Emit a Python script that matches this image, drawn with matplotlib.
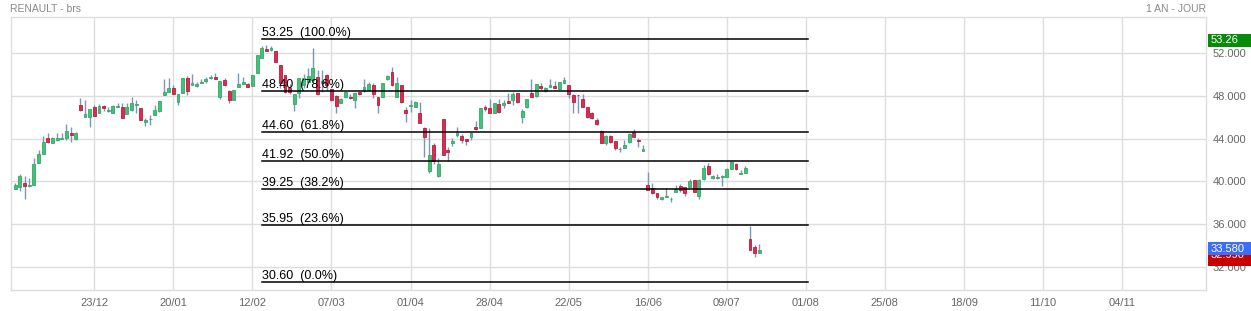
import matplotlib
matplotlib.use('Agg')
import matplotlib.pyplot as plt
from matplotlib.patches import Rectangle
from matplotlib.transforms import blended_transform_factory

plt.rcParams['font.family'] = ['Liberation Sans', 'DejaVu Sans']

# daily candles (open, high, low, close), one per trading day
opens = [39.33, 39.45, 39.82, 39.58, 39.70, 41.75, 42.59, 44.05, 43.61, 43.86,
         43.98, 44.08, 44.52, 43.95, 47.12, 46.04, 45.97, 46.91, 46.41, 47.03,
         46.55, 46.41, 46.91, 46.91, 46.28, 46.66, 47.12, 46.81, 45.57, 45.78,
         46.19, 46.60, 48.09, 48.37, 48.68, 47.43, 48.27, 49.61, 48.99, 48.90,
         49.14, 49.39, 49.61, 49.76, 47.90, 49.45, 48.43, 47.59, 48.83, 49.05,
         49.05, 48.93, 50.14, 51.47, 52.35, 52.25, 52.16, 50.85, 49.92, 48.68,
         47.19, 48.21, 49.00, 49.30, 49.46, 49.77, 49.15, 49.92, 48.62, 47.97,
         47.28, 47.90, 47.90, 47.60, 48.31, 48.43, 48.53, 48.99, 47.90, 47.90,
         49.52, 50.17, 47.90, 48.99, 46.66, 47.03, 46.97, 46.41, 44.95, 41.01,
         43.40, 40.51, 45.79, 42.93, 43.56, 44.30, 44.24, 43.99, 44.18, 45.11,
         44.95, 46.91, 46.82, 46.35, 47.22, 47.10, 47.53, 47.60, 48.28, 45.98,
         46.91, 48.22, 47.97, 48.90, 48.46, 48.84, 48.90, 48.59, 49.21, 48.99,
         48.06, 48.06, 47.66, 46.91, 46.41, 45.73, 44.74, 43.56, 44.24, 43.77,
         43.00, 43.15, 43.71, 44.64, 43.77, 42.84, 39.67, 39.36, 38.95, 38.33,
         38.58, 38.33, 39.05, 39.58, 39.45, 39.45, 40.14, 38.68, 40.20, 41.44,
         40.29, 40.29, 40.38, 40.45, 41.13, 41.63, 40.74, 40.82, 34.61, 33.92,
         33.36]
highs = [39.89, 40.70, 40.51, 40.29, 42.15, 42.93, 44.23, 44.55, 44.17, 44.55,
         44.55, 45.35, 45.04, 44.64, 47.77, 47.59, 46.75, 47.12, 47.22, 47.15,
         46.97, 47.15, 47.34, 47.28, 47.28, 47.90, 47.59, 46.81, 45.88, 46.19,
         47.12, 47.50, 49.52, 49.61, 48.99, 48.15, 49.61, 49.83, 49.98, 49.30,
         49.52, 49.70, 49.95, 50.07, 49.36, 49.61, 48.52, 48.52, 50.14, 49.76,
         49.20, 49.92, 51.78, 52.62, 52.72, 52.66, 52.16, 50.85, 49.92, 49.05,
         48.12, 49.61, 49.98, 50.54, 52.47, 50.39, 50.39, 49.98, 48.62, 48.06,
         47.81, 48.43, 48.12, 48.37, 48.37, 49.55, 49.30, 49.15, 47.90, 49.15,
         49.92, 50.70, 49.70, 48.99, 46.97, 47.60, 47.53, 47.44, 45.10, 44.95,
         43.56, 42.16, 45.79, 43.18, 44.02, 45.11, 44.43, 43.99, 44.64, 45.63,
         46.82, 47.13, 47.66, 47.35, 47.66, 47.60, 48.28, 48.37, 48.28, 46.72,
         47.66, 49.52, 49.09, 49.15, 48.84, 49.52, 49.40, 49.30, 49.77, 48.99,
         48.15, 48.06, 48.15, 46.91, 46.50, 45.88, 44.80, 44.30, 44.33, 43.77,
         43.25, 43.87, 44.49, 44.86, 44.02, 43.40, 40.91, 39.89, 38.95, 38.58,
         39.36, 38.58, 39.67, 39.76, 39.45, 40.20, 40.14, 40.20, 41.53, 41.75,
         40.60, 40.70, 40.60, 41.22, 41.95, 41.75, 41.07, 41.44, 35.85, 34.08,
         34.17]
lows = [39.33, 39.14, 38.40, 39.51, 39.70, 41.75, 42.53, 43.55, 43.61, 43.80,
        43.95, 43.86, 43.70, 43.86, 46.60, 46.04, 45.10, 46.13, 46.41, 46.60,
        46.50, 46.41, 46.91, 45.94, 46.28, 46.57, 46.41, 45.73, 45.17, 45.26,
        46.19, 46.50, 48.09, 48.30, 48.12, 47.12, 48.27, 48.06, 48.99, 48.77,
        49.14, 49.20, 49.52, 49.58, 47.65, 48.93, 47.34, 47.59, 48.83, 49.05,
        48.77, 48.93, 50.14, 51.47, 52.19, 52.19, 51.10, 48.68, 48.20, 48.12,
        46.57, 47.75, 48.68, 49.30, 49.30, 48.06, 48.37, 48.43, 47.50, 46.35,
        47.28, 47.75, 47.69, 46.82, 48.06, 48.37, 48.46, 47.75, 46.35, 47.90,
        49.46, 48.90, 47.90, 47.28, 45.57, 46.50, 46.91, 45.42, 42.25, 40.82,
        41.63, 40.39, 42.47, 41.94, 43.31, 44.12, 43.56, 43.37, 43.87, 44.80,
        44.95, 46.60, 46.35, 46.35, 46.41, 46.82, 47.35, 47.13, 47.35, 45.48,
        46.82, 47.84, 47.90, 48.46, 48.37, 48.84, 48.68, 48.53, 49.15, 47.75,
        46.41, 46.35, 46.97, 45.88, 45.79, 45.26, 43.56, 43.40, 43.62, 42.93,
        42.78, 43.09, 43.62, 44.11, 43.25, 42.84, 39.20, 38.83, 38.36, 38.27,
        38.52, 38.12, 39.05, 39.05, 38.64, 39.45, 39.05, 38.36, 40.14, 40.60,
        40.23, 40.20, 39.58, 40.45, 41.13, 41.07, 40.74, 40.82, 33.61, 32.99,
        33.36]
closes = [39.67, 40.51, 39.61, 39.63, 41.63, 42.56, 43.68, 43.68, 44.05, 44.05,
          44.00, 44.67, 44.30, 44.52, 46.66, 46.28, 46.75, 46.13, 47.03, 46.81,
          46.58, 47.03, 47.06, 45.94, 46.91, 47.34, 47.15, 45.73, 45.73, 45.80,
          46.66, 47.50, 48.37, 48.68, 48.12, 48.15, 49.61, 48.46, 49.20, 49.05,
          49.30, 49.55, 49.70, 49.58, 49.36, 48.99, 47.59, 48.52, 49.08, 49.30,
          48.77, 49.92, 51.78, 52.40, 52.19, 52.41, 51.10, 49.15, 48.37, 48.31,
          48.12, 49.61, 49.67, 49.86, 50.54, 48.12, 49.36, 48.99, 47.60, 47.07,
          47.69, 48.31, 47.75, 48.28, 48.12, 48.83, 49.05, 48.12, 47.13, 49.15,
          49.86, 48.99, 49.15, 47.44, 46.41, 47.06, 47.38, 45.48, 44.18, 42.47,
          41.94, 41.63, 42.47, 42.72, 43.77, 44.55, 43.87, 43.81, 44.49, 44.86,
          46.82, 46.72, 46.41, 47.35, 46.50, 47.35, 47.35, 48.15, 47.44, 46.57,
          47.66, 47.84, 49.09, 48.68, 48.68, 48.99, 48.68, 49.24, 49.46, 48.15,
          47.44, 48.03, 46.97, 45.98, 45.88, 45.33, 43.62, 44.24, 43.71, 43.09,
          43.00, 43.40, 44.39, 44.18, 43.75, 43.03, 39.20, 38.95, 38.58, 38.52,
          38.60, 38.33, 39.30, 39.20, 38.95, 40.07, 39.05, 40.14, 41.22, 40.70,
          40.51, 40.45, 40.54, 41.13, 41.84, 41.13, 40.76, 41.22, 33.61, 33.36,
          33.58]

# date labels, one every 17 trading days
date_labels = ['23/12', '20/01', '12/02', '07/03', '01/04', '28/04', '22/05',
               '16/06', '09/07', '01/08', '25/08', '18/09', '11/10', '04/11']
yticks = [32, 36, 40, 44, 48, 52]

# fibonacci retracement
fib_levels = [53.25, 48.40, 44.60, 41.92, 39.25, 35.95, 30.60]
fib_pcts = [100.0, 78.6, 61.8, 50.0, 38.2, 23.6, 0.0]
fib_start, fib_end = 53, 170.5

# price tags on the right
tag_high = 53.26
tag_last = 33.580
tag_low = 32.990

up_col = '#45c07a'
up_edge = '#35a866'
dn_col = '#e0294f'
dn_edge = '#b51f3e'
wick_col = '#7b97b8'
grid_col = '#dddddd'

fig = plt.figure(figsize=(12.51, 3.11), dpi=100)
ax = fig.add_axes([11/1251, 1 - 290/311, (1206-11)/1251, (290-17)/311])

n = len(closes)
xs = list(range(n))
ax.vlines(xs, lows, highs, color=wick_col, linewidth=1.0, zorder=3)
for i in xs:
    o, c = opens[i], closes[i]
    up = c >= o
    h = max(abs(c - o), 0.07)
    ax.bar(i, h, bottom=min(o, c), width=0.62,
           color=up_col if up else dn_col,
           edgecolor=up_edge if up else dn_edge, linewidth=0.6, zorder=4)

# fib lines, the label sits right on its line
for lv, p in zip(fib_levels, fib_pcts):
    ax.plot([fib_start, fib_end], [lv, lv], color='black', linewidth=1.1, zorder=5)
    ax.text(fib_start, lv + 0.02, '%.2f  (%.1f%%)' % (lv, p), fontsize=9,
            color='black', ha='left', va='bottom', zorder=6)

xticks = [17 * (k + 1) for k in range(len(date_labels))]
ax.set_xticks(xticks)
ax.set_xticklabels(date_labels)
ax.set_yticks(yticks)
ax.set_yticklabels(['%.3f' % v for v in yticks])
ax.yaxis.tick_right()
ax.tick_params(axis='both', length=0, labelsize=8, labelcolor='#666666')
ax.tick_params(axis='x', pad=6)
ax.tick_params(axis='y', pad=5)
ax.grid(True, color=grid_col, linewidth=1.0)
ax.set_axisbelow(True)
for s in ax.spines.values():
    s.set_color(grid_col)
    s.set_linewidth(1.0)

ax.set_xlim(-0.92, 256.06)
ax.set_ylim(29.88, 55.33)

# right side tags (low tag partly hidden by the last price tag)
tr = blended_transform_factory(ax.transAxes, ax.transData)
bw = 45 / 1195
bh = 1.25
z = 10
for val, off, toff, col, txt in [(tag_high, -0.12, 0.0, '#0a8a0a', '%.2f' % tag_high),
                                 (tag_low, -0.29, 0.45, '#c80000', '%.3f' % tag_low),
                                 (tag_last, 0.15, 0.0, '#3b6ef5', '%.3f' % tag_last)]:
    yc = val + off
    ax.add_patch(Rectangle((1.0015, yc - bh/2), bw, bh, transform=tr,
                           facecolor=col, edgecolor='none', clip_on=False, zorder=z))
    ax.text(1.0035, yc + toff, txt, transform=tr, color='white', fontsize=8,
            ha='left', va='center', clip_on=False, zorder=z + 1)
    z += 2

fig.text(10/1251, 1 - 9/311, 'RENAULT - brs', fontsize=7.5, color='#888888',
         ha='left', va='center')
fig.text(1206/1251, 1 - 9/311, '1 AN - JOUR', fontsize=7.5, color='#888888',
         ha='right', va='center')

fig.savefig('out.png', dpi=100)
